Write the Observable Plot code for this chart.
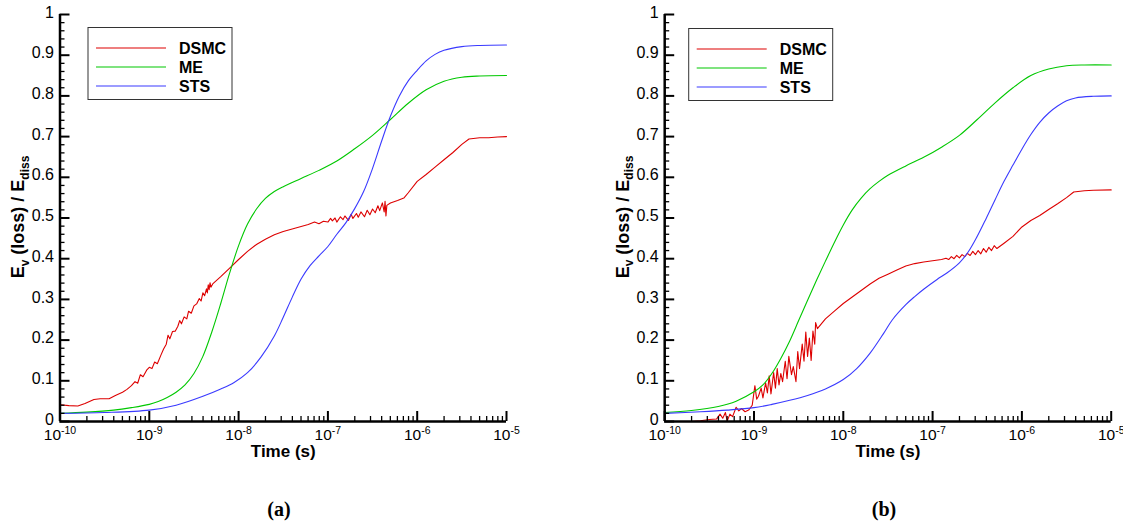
<!DOCTYPE html>
<html><head><meta charset="utf-8">
<script src="https://cdn.jsdelivr.net/npm/d3@7"></script>
<script src="https://cdn.jsdelivr.net/npm/@observablehq/plot@0.6"></script>
<style>
body{margin:0;background:#fff;}
#wrap{position:relative;width:1123px;height:523px;overflow:hidden;font-family:"Liberation Sans",Arial,sans-serif;}
.panel{position:absolute;top:0;}
.cap{position:absolute;top:499px;font-family:"Liberation Serif","Times New Roman",serif;font-weight:bold;font-size:20px;line-height:20px;transform:translateX(-50%);}
</style></head><body><div id="wrap"></div>
<script>
// ---- labels ----
const seriesNames = ["DSMC", "ME", "STS"];
const seriesColors = ["#dd0000", "#00c800", "#3a3aff"];
const xLabel = "Time (s)";
const panelCaptions = ["(a)", "(b)"];
const xMajorTicks = [1e-10, 1e-9, 1e-8, 1e-7, 1e-6, 1e-5];
const yMajorTicks = [0, 0.1, 0.2, 0.3, 0.4, 0.5, 0.6, 0.7, 0.8, 0.9, 1];

// ---- data: [log10(time in s), Ev(loss)/Ediss] ----
const dsmcA = [[-10,0.041],[-9.9,0.039],[-9.8,0.038],[-9.72,0.044],[-9.62,0.054],[-9.55,0.056],[-9.45,0.056],[-9.38,0.064],[-9.3,0.072],[-9.25,0.079],[-9.2,0.088],[-9.16,0.098],[-9.13,0.094],[-9.1,0.115],[-9.07,0.11],[-9.03,0.126],[-9.0,0.133],[-8.97,0.13],[-8.94,0.146],[-8.91,0.142],[-8.87,0.163],[-8.84,0.178],[-8.81,0.19],[-8.79,0.212],[-8.77,0.203],[-8.74,0.221],[-8.71,0.222],[-8.68,0.234],[-8.66,0.248],[-8.64,0.24],[-8.61,0.257],[-8.58,0.252],[-8.56,0.271],[-8.53,0.266],[-8.5,0.284],[-8.47,0.289],[-8.44,0.302],[-8.42,0.296],[-8.4,0.316],[-8.38,0.309],[-8.36,0.326],[-8.35,0.316],[-8.34,0.336],[-8.33,0.324],[-8.32,0.341],[-8.31,0.33],[-8.29,0.338],[-8.2,0.356],[-8.1,0.377],[-8.0,0.398],[-7.9,0.418],[-7.8,0.435],[-7.7,0.448],[-7.6,0.459],[-7.5,0.467],[-7.4,0.473],[-7.3,0.479],[-7.22,0.484],[-7.15,0.49],[-7.1,0.486],[-7.05,0.492],[-7.0,0.49],[-6.97,0.499],[-6.95,0.493],[-6.92,0.5],[-6.9,0.49],[-6.86,0.503],[-6.83,0.496],[-6.81,0.505],[-6.77,0.494],[-6.74,0.509],[-6.72,0.499],[-6.68,0.511],[-6.66,0.502],[-6.63,0.515],[-6.59,0.503],[-6.56,0.519],[-6.53,0.508],[-6.5,0.522],[-6.47,0.513],[-6.44,0.53],[-6.42,0.518],[-6.39,0.537],[-6.37,0.515],[-6.36,0.541],[-6.35,0.505],[-6.34,0.531],[-6.3,0.537],[-6.22,0.543],[-6.15,0.549],[-6.1,0.562],[-6.0,0.59],[-5.9,0.607],[-5.8,0.625],[-5.7,0.643],[-5.6,0.661],[-5.5,0.681],[-5.42,0.694],[-5.3,0.697],[-5.2,0.697],[-5.1,0.699],[-5.0,0.7]];
const meA = [[-10,0.02],[-9.7,0.023],[-9.4,0.028],[-9.2,0.034],[-9.0,0.042],[-8.9,0.049],[-8.8,0.059],[-8.7,0.072],[-8.6,0.09],[-8.5,0.118],[-8.4,0.16],[-8.3,0.22],[-8.2,0.29],[-8.1,0.365],[-8.0,0.432],[-7.9,0.485],[-7.8,0.522],[-7.7,0.548],[-7.6,0.565],[-7.5,0.577],[-7.3,0.597],[-7.1,0.617],[-6.9,0.64],[-6.7,0.67],[-6.5,0.703],[-6.3,0.742],[-6.1,0.782],[-5.9,0.815],[-5.7,0.836],[-5.5,0.846],[-5.3,0.849],[-5.0,0.85]];
const stsA = [[-10,0.02],[-9.5,0.022],[-9.0,0.028],[-8.7,0.04],[-8.4,0.062],[-8.2,0.08],[-8.05,0.096],[-7.9,0.12],[-7.75,0.158],[-7.6,0.21],[-7.5,0.256],[-7.4,0.305],[-7.3,0.35],[-7.2,0.383],[-7.1,0.407],[-7.0,0.43],[-6.9,0.46],[-6.8,0.488],[-6.7,0.523],[-6.6,0.565],[-6.5,0.622],[-6.4,0.688],[-6.3,0.75],[-6.2,0.8],[-6.1,0.837],[-6.0,0.863],[-5.9,0.886],[-5.8,0.902],[-5.7,0.912],[-5.5,0.921],[-5.3,0.924],[-5.0,0.925]];

const dsmcB = [[-10,0.0],[-9.7,0.0],[-9.6,0.002],[-9.5,0.005],[-9.42,0.006],[-9.38,0.018],[-9.35,0.008],[-9.32,0.022],[-9.3,0.001],[-9.27,0.018],[-9.24,0.012],[-9.2,0.035],[-9.17,0.026],[-9.14,0.032],[-9.1,0.024],[-9.06,0.028],[-9.02,0.04],[-8.99,0.088],[-8.97,0.055],[-8.95,0.062],[-8.92,0.082],[-8.9,0.058],[-8.87,0.095],[-8.85,0.07],[-8.83,0.112],[-8.81,0.068],[-8.78,0.12],[-8.76,0.082],[-8.74,0.13],[-8.72,0.09],[-8.7,0.118],[-8.68,0.098],[-8.65,0.148],[-8.63,0.105],[-8.61,0.16],[-8.58,0.115],[-8.56,0.135],[-8.53,0.098],[-8.51,0.172],[-8.49,0.13],[-8.46,0.19],[-8.44,0.148],[-8.42,0.22],[-8.4,0.16],[-8.38,0.205],[-8.36,0.15],[-8.34,0.222],[-8.32,0.19],[-8.31,0.243],[-8.29,0.228],[-8.2,0.252],[-8.1,0.271],[-8.0,0.29],[-7.9,0.306],[-7.8,0.322],[-7.7,0.338],[-7.6,0.352],[-7.5,0.362],[-7.4,0.372],[-7.3,0.382],[-7.2,0.388],[-7.1,0.392],[-7.0,0.395],[-6.9,0.398],[-6.85,0.401],[-6.82,0.398],[-6.79,0.405],[-6.76,0.4],[-6.73,0.408],[-6.7,0.402],[-6.67,0.41],[-6.64,0.405],[-6.61,0.413],[-6.58,0.408],[-6.55,0.418],[-6.52,0.41],[-6.49,0.42],[-6.46,0.412],[-6.43,0.425],[-6.4,0.416],[-6.37,0.428],[-6.34,0.42],[-6.31,0.432],[-6.28,0.425],[-6.2,0.438],[-6.1,0.455],[-6.0,0.478],[-5.9,0.494],[-5.8,0.506],[-5.7,0.521],[-5.6,0.535],[-5.5,0.55],[-5.42,0.564],[-5.3,0.567],[-5.2,0.568],[-5.0,0.569]];
const meB = [[-10,0.022],[-9.7,0.027],[-9.4,0.037],[-9.2,0.05],[-9.0,0.073],[-8.9,0.09],[-8.8,0.118],[-8.7,0.155],[-8.6,0.198],[-8.5,0.248],[-8.4,0.298],[-8.3,0.347],[-8.2,0.394],[-8.1,0.44],[-8.0,0.483],[-7.9,0.52],[-7.8,0.549],[-7.7,0.572],[-7.6,0.59],[-7.5,0.605],[-7.3,0.628],[-7.1,0.649],[-6.9,0.674],[-6.7,0.703],[-6.5,0.742],[-6.3,0.783],[-6.1,0.82],[-5.9,0.85],[-5.7,0.866],[-5.5,0.874],[-5.3,0.876],[-5.0,0.876]];
const stsB = [[-10,0.02],[-9.6,0.024],[-9.3,0.028],[-9.0,0.034],[-8.8,0.042],[-8.6,0.052],[-8.4,0.064],[-8.2,0.08],[-8.0,0.103],[-7.85,0.13],[-7.7,0.168],[-7.55,0.216],[-7.45,0.25],[-7.3,0.287],[-7.2,0.307],[-7.1,0.325],[-6.95,0.349],[-6.84,0.365],[-6.7,0.39],[-6.6,0.417],[-6.5,0.455],[-6.4,0.499],[-6.3,0.545],[-6.2,0.59],[-6.1,0.63],[-6.0,0.669],[-5.9,0.705],[-5.8,0.735],[-5.7,0.758],[-5.6,0.775],[-5.5,0.788],[-5.4,0.795],[-5.2,0.799],[-5.0,0.8]];

// ---- derived tick sets ----
const yMinorTicks = d3.range(0, 51).map(i => i / 50).filter(v => Math.round(v * 50) % 5 !== 0);
const xMinorTicks = xMajorTicks.slice(0, -1).flatMap(d => d3.range(2, 10).map(k => k * d));

const FONT = '"Liberation Sans", Arial, Helvetica, sans-serif';

function makePanel(cfg) {
  const H = 470;
  const toRows = arr => arr.map(([u, v]) => ({t: Math.pow(10, u), v}));
  const series = [cfg.dsmc, cfg.me, cfg.sts];
  const lineMarks = series.map((s, i) => Plot.line(toRows(s), {
    x: "t", y: "v", stroke: seriesColors[i], strokeWidth: 1.1,
    curve: i === 0 ? "linear" : "catmull-rom"
  }));
  const chart = Plot.plot({
    width: cfg.width, height: H,
    marginLeft: cfg.ml, marginRight: cfg.mr, marginTop: 14, marginBottom: 49,
    style: {fontFamily: FONT, fontSize: "16px", color: "#000", background: "transparent", overflow: "visible"},
    x: {type: "log", domain: [1e-10, 1e-5], label: null},
    y: {domain: [0, 1], label: null},
    marks: [
      ...lineMarks,
      Plot.axisY({ticks: yMajorTicks, tickSize: 0, tickPadding: 6, dy: -2, tickFormat: d => String(d), label: null, fontSize: 16}),
      Plot.axisY({ticks: yMinorTicks, tickSize: -5, tickFormat: () => "", label: null, strokeWidth: 1.3}),
      Plot.axisY({ticks: yMajorTicks, tickSize: -10, tickFormat: () => "", label: null, strokeWidth: 2}),
      Plot.axisX({ticks: xMajorTicks, tickSize: 0, tickPadding: 7, tickFormat: d => "10^" + Math.round(Math.log10(d)), label: null, fontSize: 15.5}),
      Plot.axisX({ticks: xMinorTicks, tickSize: -5, tickFormat: () => "", label: null, strokeWidth: 1.3}),
      Plot.axisX({ticks: xMajorTicks, tickSize: -10, tickFormat: () => "", label: null, strokeWidth: 2}),
      Plot.ruleX([1e-10], {strokeWidth: 2.5}),
      Plot.ruleY([0], {strokeWidth: 2.5}),
      Plot.text([xLabel], {text: d => d, frameAnchor: "bottom", dy: 35, fontWeight: "bold", fontSize: 17})
    ]
  });
  const svg = d3.select(chart);
  // superscript exponents on x tick labels
  svg.selectAll('g[aria-label="x-axis tick label"] text').each(function () {
    const s = this.textContent;
    if (!s.includes("^")) return;
    const [base, exp] = s.split("^");
    const t = d3.select(this);
    t.text(null);
    t.append("tspan").text(base);
    t.append("tspan").attr("dy", "-0.5em").attr("font-size", "10.5px").text(exp);
  });
  // y axis title with subscripts
  const yl = svg.append("text")
    .attr("transform", `translate(${cfg.ml - 42},217) rotate(-90)`)
    .attr("text-anchor", "middle").attr("font-weight", "bold").attr("font-size", 18)
    .attr("font-family", FONT).attr("fill", "#000").attr("dy", "0.35em");
  yl.append("tspan").text("E");
  yl.append("tspan").attr("font-size", 12).attr("dy", 5).text("v");
  yl.append("tspan").attr("dy", -5).text(" (loss) / E");
  yl.append("tspan").attr("font-size", 12).attr("dy", 5).text("diss");
  // legend
  const g = svg.append("g").attr("transform", `translate(${cfg.legX},${cfg.legY})`);
  g.append("rect").attr("width", 144).attr("height", 72)
    .attr("style", "fill:#fff;stroke:#333;stroke-width:1");
  seriesNames.forEach((n, i) => {
    const y = 20.5 + 19 * i;
    g.append("path").attr("d", `M8,${y}H78`)
      .attr("style", `fill:none;stroke:${seriesColors[i]};stroke-width:1.1`);
    g.append("text").attr("x", 91).attr("y", y).attr("dy", "0.36em")
      .attr("style", `font-family:${FONT};font-weight:bold;font-size:16px;fill:#000;text-anchor:start`)
      .text(n);
  });
  const div = document.createElement("div");
  div.className = "panel";
  div.style.left = cfg.left + "px";
  div.appendChild(chart);
  return div;
}

const wrap = document.getElementById("wrap");
wrap.appendChild(makePanel({left: 0, width: 561, ml: 59.5, mr: 55, dsmc: dsmcA, me: meA, sts: stsA, legX: 88, legY: 27.5}));
wrap.appendChild(makePanel({left: 561, width: 562, ml: 103.2, mr: 12.3, dsmc: dsmcB, me: meB, sts: stsB, legX: 127.7, legY: 28.5}));
[[279, panelCaptions[0]], [884, panelCaptions[1]]].forEach(([x, t]) => {
  const c = document.createElement("div");
  c.className = "cap";
  c.style.left = x + "px";
  c.textContent = t;
  wrap.appendChild(c);
});
</script>
</body></html>
